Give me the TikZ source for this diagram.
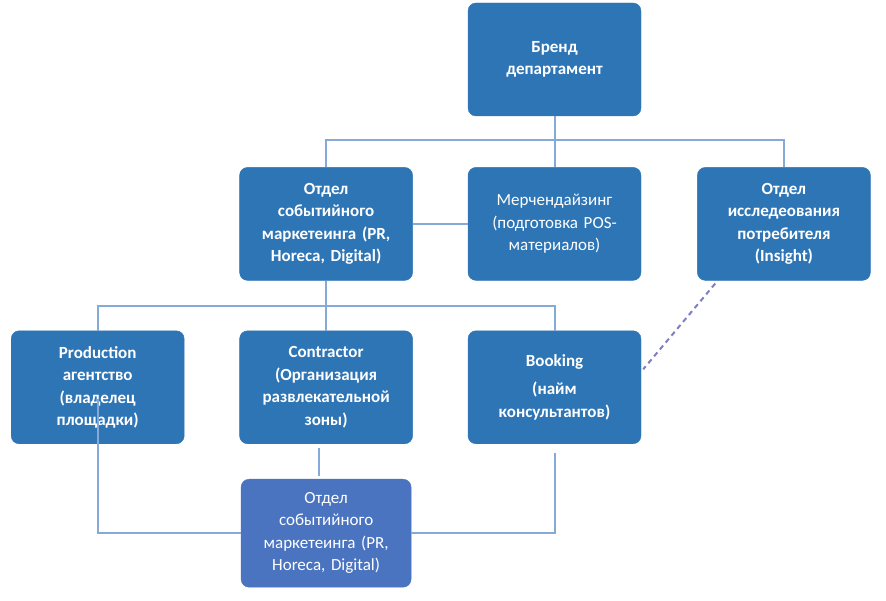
\documentclass[tikz,border=0pt]{standalone}
\usepackage{fontspec}
\setmainfont{Carlito}
\usepackage{tikz}
\usetikzlibrary{positioning,calc}
\definecolor{OrgBlue}{HTML}{2E75B6}
\definecolor{OrgLight}{HTML}{4A74C0}
\definecolor{OrgLine}{HTML}{86AAD8}
\definecolor{OrgDash}{HTML}{7C80C2}
\tikzset{
  org/box/.style={fill=OrgBlue, draw=OrgBlue, rounded corners=8pt, minimum width=173pt, minimum height=113pt,
    text width=170pt, align=center, text=white, inner sep=0pt, font=\fontsize{17}{22.5}\selectfont\bfseries},
  org/plain/.style={org/box, font=\fontsize{17}{22.5}\selectfont},
  org/sub/.style={org/plain, fill=OrgLight, draw=OrgLight, minimum width=170pt, minimum height=108pt},
  org/line/.style={draw=OrgLine, line width=2pt},
  org/dash/.style={draw=OrgDash, line width=2pt, dash pattern=on 5pt off 4pt}
}

\begin{document}
\begin{tikzpicture}[x=1pt, y=1pt, node distance=51pt and 55pt]
  \useasboundingbox (0,0) rectangle (886,601);
  \node[org/box] (brand) at (554.5,541.5) {Бренд\\департамент};
  \node[org/plain, below=51pt of brand] (merch) {Мерчендайзинг\\(подготовка POS-\\материалов)};
  \node[org/box, left=55pt of merch] (event) {Отдел\\событийного\\маркетеинга (PR,\\Horeca, Digital)};
  \node[org/box, right=56pt of merch] (insight) {Отдел\\исследеования\\потребителя\\(Insight)};
  \node[org/box, below=50pt of event] (contractor) {Contractor\\(Организация\\развлекательной\\зоны)};
  \node[org/box, left=55pt of contractor] (production) {Production\\агентство\\(владелец\\площадки)};
  \node[org/box, below=50pt of merch] (booking) {Booking\\[6pt](найм\\консультантов)};
  \node[org/sub, below=35pt of contractor] (event2) {Отдел\\событийного\\маркетеинга (PR,\\Horeca, Digital)};
  % buses
  \coordinate (bus1) at ($(brand.south)+(0,-24)$);
  \coordinate (bus2) at ($(event.south)+(0,-25)$);
  \draw[org/line] (brand) -- (merch);
  \draw[org/line] (event.north) |- (bus1) -| (insight.north);
  \draw[org/line] (event) -- (merch);
  \draw[org/line] (event) -- (contractor);
  \draw[org/line] (production.north) |- (bus2) -| (booking.north);
  \draw[org/dash] ([xshift=18pt,yshift=-3pt]insight.south west) -- ([xshift=2pt,yshift=18pt]booking.east);
  % to the lower department
  \draw[org/line] ([yshift=-12pt]production.center) |- (event2.west);
  \draw[org/line] ([xshift=-7pt,yshift=-4pt]contractor.south) -- ([xshift=-7pt,yshift=3pt]event2.north);
  \draw[org/line] ([yshift=-9pt]booking.south) |- (event2.east);
\end{tikzpicture}
\end{document}
